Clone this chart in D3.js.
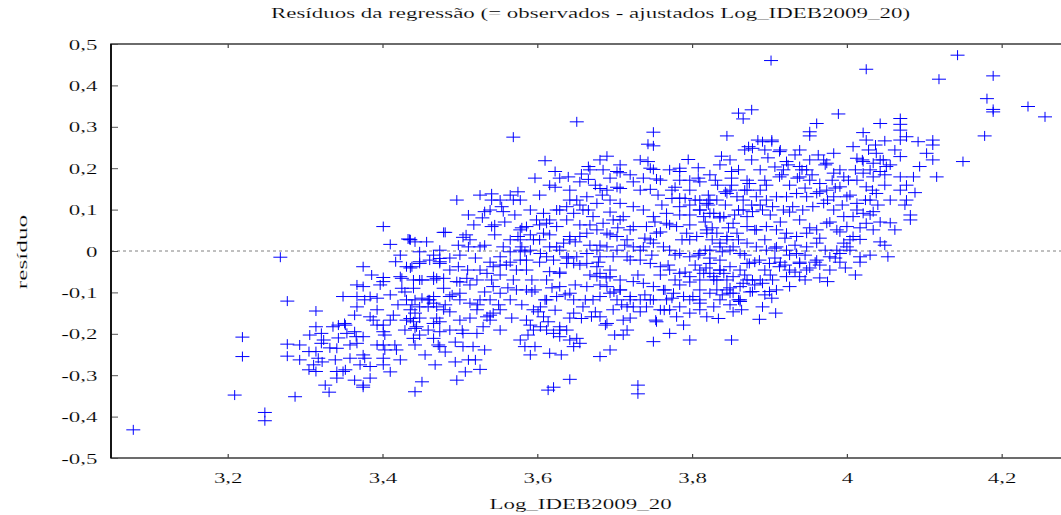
<!DOCTYPE html>
<html>
<head>
<meta charset="utf-8">
<script src="https://cdn.jsdelivr.net/npm/d3@7"></script>
<style>
body { margin: 0; background: #fff; }
svg text { font-family: "Liberation Serif", "Times New Roman", serif; fill: #000; stroke: #fff; stroke-width: 0.15px; paint-order: fill; }
</style>
</head>
<body>
<script>
(function(){

    //residual points: [Log_IDEB2009_20, resíduo]
    var points = [
        [3.078,-0.432],[3.209,-0.348],[3.219,-0.208],[3.219,-0.255],[3.248,-0.390],[3.248,-0.410],[3.268,-0.015],[3.277,-0.121],[3.277,-0.225],[3.277,-0.254],
        [3.287,-0.352],[3.314,-0.145],[3.314,-0.183],[3.321,-0.199],[3.324,-0.215],[3.321,-0.223],[3.305,-0.243],[3.314,-0.243],[3.317,-0.259],[3.311,-0.275],
        [3.305,-0.287],[3.314,-0.291],[3.331,-0.341],[3.341,-0.235],[3.341,-0.291],[3.341,-0.307],[3.349,-0.291],[3.336,-0.183],[3.343,-0.179],[3.351,-0.175],
        [3.354,-0.199],[3.364,-0.195],[3.366,-0.207],[3.367,-0.223],[3.375,-0.207],[3.358,-0.259],[3.375,-0.251],[3.377,-0.259],[3.384,-0.279],[3.375,-0.324],
        [3.375,-0.329],[3.367,-0.135],[3.367,-0.110],[3.367,-0.082],[3.375,-0.086],[3.349,-0.110],[3.375,-0.038],[3.384,-0.110],[3.393,-0.114],[3.393,-0.142],
        [3.384,-0.159],[3.388,-0.167],[3.393,-0.179],[3.401,-0.179],[3.401,-0.195],[3.393,-0.227],[3.401,-0.227],[3.403,-0.239],[3.401,-0.259],[3.401,-0.275],
        [3.418,-0.239],[3.410,-0.106],[3.414,-0.155],[3.401,-0.064],[3.401,-0.074],[3.401,0.059],[3.410,0.016],[3.417,-0.026],[3.425,-0.066],[3.425,-0.090],
        [3.438,-0.038],[3.436,0.027],[3.433,0.029],[3.442,0.022],[3.457,0.022],[3.448,-0.002],[3.448,-0.026],[3.440,-0.070],[3.451,-0.070],[3.440,-0.090],
        [3.431,-0.118],[3.442,-0.118],[3.451,-0.114],[3.436,-0.142],[3.442,-0.150],[3.436,-0.163],[3.440,-0.171],[3.442,-0.187],[3.448,-0.203],[3.440,-0.211],
        [3.451,-0.316],[3.442,-0.340],[3.466,-0.010],[3.466,-0.070],[3.470,-0.066],[3.466,-0.110],[3.466,-0.126],[3.466,-0.175],[3.466,-0.211],[3.474,-0.231],
        [3.474,-0.195],[3.479,0.045],[3.479,-0.090],[3.479,-0.142],[3.474,-0.018],[3.474,-0.026],[3.459,-0.118],[3.459,-0.135],[3.470,-0.135],
        [3.651,0.312],[3.569,0.275],[3.750,0.287],[3.743,0.258],[3.750,0.254],[3.845,0.278],[3.860,0.333],[3.866,0.319],[3.873,0.252],[3.690,0.229],
        [3.610,0.218],[3.743,0.216],[3.750,0.197],[3.838,0.229],[3.795,0.221],[3.784,0.200],[3.784,0.192],[3.808,0.201],[3.808,0.176],[3.797,0.171],
        [3.830,0.171],[3.851,0.192],[3.851,0.176],[3.666,0.204],[3.657,0.186],[3.666,0.173],[3.685,0.196],[3.703,0.192],[3.707,0.189],[3.623,0.192],
        [3.640,0.179],[3.597,0.176],[3.623,0.154],[3.724,0.167],[3.737,0.176],[3.754,0.174],[3.733,0.147],[3.746,0.149],[3.681,0.151],[3.690,0.147],
        [3.703,0.154],[3.707,0.151],[3.778,0.154],[3.756,0.135],[3.774,0.127],[3.791,0.127],[3.784,0.107],[3.804,0.123],[3.823,0.123],[3.821,0.111],
        [3.843,0.143],[3.851,0.159],[3.871,0.171],[3.866,0.123],[3.860,0.099],[3.871,0.083],[3.496,0.123],[3.511,0.087],[3.526,0.135],[3.541,0.138],
        [3.541,0.123],[3.569,0.123],[3.575,0.143],[3.532,0.095],[3.554,0.107],[3.556,0.095],[3.545,0.063],[3.541,0.059],[3.481,0.045],[3.504,0.033],
        [3.511,0.010],[3.526,0.010],[3.435,0.028],[3.474,-0.030],[3.448,-0.030],[3.431,-0.038],[3.423,-0.062],[3.466,-0.062],[3.479,-0.066],[3.487,-0.046],
        [3.498,-0.038],[3.496,-0.074],[3.509,-0.066],[3.522,-0.070],[3.535,-0.054],[3.543,-0.038],[3.552,-0.014],[3.556,0.010],[3.565,0.027],[3.575,0.035],
        [3.580,0.010],[3.584,-0.002],[3.586,-0.022],[3.578,-0.022],[3.573,-0.046],[3.586,-0.046],[3.560,-0.034],[3.569,-0.070],[3.593,-0.070],[3.543,-0.086],
        [3.552,-0.102],[3.539,-0.118],[3.526,-0.118],[3.513,-0.126],[3.522,-0.142],[3.535,-0.159],[3.543,-0.150],[3.552,-0.142],[3.565,-0.118],[3.573,-0.094],
        [3.586,-0.094],[3.597,-0.094],[3.500,-0.102],[3.487,-0.110],[3.448,-0.135],[3.431,-0.167],[3.444,-0.183],[3.487,-0.191],[3.500,-0.167],[3.504,-0.199],
        [3.522,-0.199],[3.530,-0.183],[3.539,-0.155],[3.517,-0.231],[3.504,-0.231],[3.511,-0.263],[3.526,-0.286],[3.496,-0.312],[3.472,-0.227],[3.578,-0.215],
        [3.584,-0.231],[3.597,-0.231],[3.591,-0.251],[3.588,-0.203],[3.595,-0.191],[3.604,-0.183],[3.612,-0.191],[3.621,-0.199],[3.629,-0.183],[3.638,-0.191],
        [3.629,-0.207],[3.642,-0.215],[3.651,-0.211],[3.655,-0.223],[3.647,-0.231],[3.616,-0.247],[3.631,-0.251],[3.642,-0.310],[3.621,-0.329],[3.614,-0.336],
        [3.681,-0.255],[3.694,-0.239],[3.730,-0.324],[3.730,-0.345],[3.750,-0.219],[3.716,-0.191],[3.711,-0.203],[3.711,-0.167],[3.690,-0.175],[3.698,-0.142],
        [3.681,-0.159],[3.670,-0.159],[3.657,-0.163],[3.647,-0.150],[3.659,-0.135],[3.672,-0.118],[3.681,-0.110],[3.694,-0.102],[3.707,-0.094],[3.720,-0.110],
        [3.733,-0.118],[3.741,-0.135],[3.724,-0.135],[3.759,-0.142],[3.771,-0.142],[3.780,-0.159],[3.789,-0.179],[3.771,-0.199],[3.754,-0.171],[3.797,-0.215],
        [3.834,-0.163],[3.851,-0.215],[3.853,-0.147],[3.864,-0.142],[3.860,-0.118],[3.832,-0.094],[3.823,-0.102],[3.810,-0.118],[3.801,-0.110],[3.789,-0.110],
        [3.776,-0.102],[3.763,-0.094],[3.750,-0.086],[3.737,-0.078],[3.724,-0.074],[3.707,-0.070],[3.694,-0.062],[3.681,-0.054],[3.677,-0.038],[3.664,-0.030],
        [3.647,-0.030],[3.638,-0.030],[3.629,-0.054],[3.616,-0.050],[3.612,-0.070],[3.629,-0.086],[3.642,-0.102],[3.625,-0.110],[3.612,-0.118],[3.604,-0.135],
        [3.595,-0.142],[3.608,-0.159],[3.586,-0.167],[3.647,-0.118],[3.681,-0.014],[3.698,-0.014],[3.716,-0.014],[3.733,-0.022],[3.746,-0.030],[3.759,-0.038],
        [3.771,-0.046],[3.784,-0.054],[3.797,-0.062],[3.810,-0.070],[3.823,-0.054],[3.836,-0.046],[3.849,-0.038],[3.862,-0.046],[3.871,-0.030],[3.862,-0.006],
        [3.849,0.002],[3.836,0.010],[3.823,0.002],[3.810,-0.006],[3.797,-0.014],[3.784,-0.006],[3.771,0.002],[3.763,0.010],[3.750,0.019],[3.737,0.010],
        [3.724,0.010],[3.716,0.027],[3.703,0.035],[3.690,0.043],[3.677,0.051],[3.664,0.043],[3.655,0.035],[3.642,0.035],[3.634,0.019],[3.625,0.010],
        [3.616,0.010],[3.608,0.043],[3.612,0.067],[3.625,0.059],[3.638,0.075],[3.647,0.091],[3.659,0.099],[3.672,0.083],[3.685,0.067],[3.698,0.075],
        [3.711,0.083],[3.724,0.059],[3.741,0.059],[3.754,0.043],[3.767,0.067],[3.780,0.059],[3.793,0.043],[3.806,0.035],[3.819,0.051],[3.832,0.043],
        [3.845,0.027],[3.858,0.043],[3.871,0.059],[3.853,0.067],[3.836,0.083],[3.823,0.091],[3.810,0.099],[3.797,0.087],[3.767,0.091],[3.750,0.083],
        [3.737,0.099],[3.724,0.107],[3.707,0.115],[3.694,0.123],[3.677,0.115],[3.664,0.131],[3.651,0.123],[3.638,0.107],[3.625,0.099],[3.608,0.091],
        [3.599,0.075],[3.586,0.059],[3.578,0.051],[3.595,0.027],[3.604,-0.006],[3.612,-0.014],[3.621,-0.022],[3.638,-0.014],[3.651,-0.014],[3.664,-0.006],
        [3.677,0.002],[3.690,0.010],[3.703,0.002],[3.677,-0.062],[3.664,-0.086],[3.690,-0.086],[3.703,-0.118],[3.716,-0.135],[3.750,-0.118],[3.767,-0.118],
        [3.784,-0.135],[3.797,-0.150],[3.810,-0.142],[3.819,-0.159],[3.828,-0.135],[3.836,-0.118],[3.849,-0.102],[3.862,-0.086],[3.871,-0.070],[3.845,-0.070],
        [3.832,-0.070],
        [3.902,0.460],[4.025,0.439],[4.143,0.473],[4.119,0.415],[4.189,0.423],[4.181,0.368],[4.189,0.342],[4.189,0.336],[4.234,0.349],[4.256,0.324],
        [4.178,0.278],[4.150,0.216],[3.877,0.341],[3.989,0.331],[3.961,0.308],[3.952,0.288],[3.952,0.278],[4.043,0.308],[4.069,0.320],[4.069,0.306],
        [4.069,0.292],[4.021,0.286],[4.025,0.268],[4.049,0.266],[4.077,0.276],[4.092,0.264],[4.111,0.268],[4.111,0.256],[4.103,0.236],[4.111,0.220],
        [4.094,0.204],[4.086,0.179],[4.116,0.179],[4.069,0.179],[4.077,0.159],[4.088,0.141],[4.077,0.123],[4.082,0.075],[4.056,0.068],[4.043,0.022],
        [4.053,-0.014],[4.017,-0.014],[4.017,0.028],[3.975,-0.074],[3.965,-0.034],[4.008,0.252],[4.028,0.244],[4.038,0.236],[4.013,0.224],[4.021,0.216],
        [4.034,0.212],[4.047,0.220],[4.069,0.228],[4.051,0.204],[4.043,0.192],[4.034,0.179],[4.021,0.188],[4.013,0.171],[4.025,0.155],[4.038,0.139],
        [4.030,0.123],[4.013,0.115],[4.000,0.131],[3.991,0.155],[3.996,0.179],[3.983,0.188],[3.974,0.212],[3.983,0.236],[3.970,0.220],[3.939,0.244],
        [3.913,0.240],[3.922,0.216],[3.939,0.204],[3.948,0.196],[3.918,0.196],[3.913,0.179],[3.896,0.159],[3.874,0.163],[3.878,0.248],[3.891,0.264],
        [3.903,0.264],[3.939,0.179],[3.952,0.171],[3.965,0.163],[3.974,0.147],[3.983,0.131],[3.961,0.139],[3.948,0.131],[3.935,0.139],[3.922,0.131],
        [3.909,0.131],[3.896,0.123],[3.883,0.131],[3.871,0.147],[3.858,0.131],[3.845,0.139],[3.832,0.123],[3.819,0.115],[3.815,0.083],[3.828,0.091],
        [3.841,0.083],[3.866,0.099],[3.878,0.095],[3.891,0.099],[3.904,0.107],[3.918,0.099],[3.930,0.107],[3.943,0.099],[3.956,0.107],[3.970,0.115],
        [3.983,0.099],[3.996,0.083],[4.008,0.083],[4.021,0.091],[4.034,0.095],[4.025,0.067],[4.000,0.059],[3.987,0.051],[3.974,0.067],[3.961,0.051],
        [3.948,0.043],[3.935,0.035],[3.922,0.043],[3.909,0.051],[3.896,0.059],[3.883,0.051],[3.845,0.035],[3.819,0.043],[3.836,0.019],[3.853,0.010],
        [3.871,0.019],[3.883,0.010],[3.896,0.002],[3.909,0.010],[3.922,0.002],[3.935,-0.006],[3.948,0.010],[3.961,0.019],[3.987,0.002],[4.000,0.010],
        [3.939,-0.030],[3.926,-0.046],[3.913,-0.038],[3.900,-0.030],[3.887,-0.022],[3.874,-0.030],[3.836,-0.022],[3.823,-0.030],[3.815,-0.054],[3.828,-0.062],
        [3.841,-0.054],[3.853,-0.062],[3.866,-0.078],[3.878,-0.070],[3.891,-0.078],[3.904,-0.070],[3.922,-0.062],[3.926,-0.086],[3.900,-0.098],[3.903,-0.114],
        [3.891,-0.135],[3.862,-0.122],[3.887,-0.165],[3.908,-0.150],[3.810,-0.126],[3.845,-0.094],[3.853,-0.102],[3.878,-0.098],[3.909,-0.094],[3.939,-0.062],
        [3.948,-0.046],[3.961,-0.022],[3.978,-0.014],[3.991,-0.006],[3.996,0.019],[4.008,0.035],[4.034,0.051],
        [3.868,0.244],[3.877,0.220],[3.888,0.196],[3.898,0.225],[3.907,0.203],[3.916,0.184],[3.926,0.159],[3.936,0.176],[3.946,0.152],[3.955,0.184],
        [3.965,0.143],[3.975,0.123],[3.985,0.152],[3.994,0.111],[4.004,0.135],[4.013,0.099],[4.024,0.123],[4.033,0.147],[4.040,0.111],[4.049,0.159],
        [4.056,0.123],[3.888,0.111],[3.901,0.087],[3.914,0.070],[3.926,0.094],[3.939,0.075],[3.952,0.056],[3.965,0.031],[3.978,0.070],[3.991,0.046],
        [4.004,0.027],[4.017,0.056],[4.030,0.087],[4.043,0.070],[3.881,0.051],[3.894,0.027],[3.907,0.007],[3.920,0.031],[3.933,0.014],[3.946,-0.010],
        [3.959,-0.027],[3.972,0.002],[3.985,-0.017],[3.998,-0.041],[4.011,-0.058],[3.868,-0.010],[3.881,-0.027],[3.894,-0.046],[3.907,-0.017],[3.920,-0.034],
        [3.933,-0.051],[3.946,-0.070],[3.868,-0.058],[3.881,-0.082],[3.894,-0.106],[3.843,0.111],[3.855,0.087],[3.847,0.056],[3.860,0.027],[3.839,-0.002],
        [3.826,0.027],[3.817,0.070],[3.833,0.159],[3.821,0.135],[3.810,0.099],[3.797,0.063],[3.787,0.027],[3.778,-0.010],[3.769,-0.034],[3.759,-0.058],
        [3.748,-0.010],[3.739,0.031],[3.752,0.070],[3.761,0.111],[3.774,0.147],[3.784,0.128],[3.797,0.027],[3.808,-0.010],[3.818,-0.041],[3.828,-0.070],
        [3.839,-0.106],[3.849,-0.130],[3.810,-0.094],[3.797,-0.118],[3.784,-0.082],[3.774,-0.114],[3.764,-0.143],[3.753,-0.167],[3.739,-0.106],[3.730,-0.058],
        [3.720,-0.022],[3.713,0.014],[3.704,0.056],[3.694,0.094],[3.684,0.135],[3.675,0.159],[3.666,0.099],[3.655,0.063],[3.649,0.022],[3.640,-0.017],
        [3.629,-0.051],[3.619,-0.089],[3.610,-0.118],[3.601,-0.147],[3.591,-0.179],[3.668,0.014],[3.679,-0.027],[3.689,-0.065],[3.699,-0.099],[3.709,-0.130],
        [3.720,-0.162],[3.688,-0.179],[3.700,-0.203],[3.675,-0.147],[3.662,-0.118],[3.649,-0.082],[3.636,-0.106],[3.623,-0.143],[3.614,-0.171],[3.629,-0.191],
        [3.642,-0.162],[3.578,0.027],[3.565,-0.002],[3.552,-0.034],[3.541,-0.070],[3.532,-0.099],[3.523,-0.130],[3.513,-0.162],[3.503,-0.191],[3.494,-0.220],
        [3.562,-0.089],[3.550,-0.130],[3.539,-0.167],[3.552,-0.191],[3.567,-0.162],[3.580,-0.130],[3.593,-0.099],[3.603,-0.027],[3.591,0.002],[3.580,0.056],
        [3.571,0.087],[3.558,0.070],[3.545,0.039],[3.532,0.014],[3.520,-0.017],[3.510,-0.046],[3.500,-0.075],[3.490,-0.106],[3.481,-0.130],[3.470,-0.162],
        [3.459,-0.191],[3.448,-0.162],[3.438,-0.130],[3.429,-0.099],[3.420,-0.130],[3.410,-0.167],[3.403,-0.203],[3.416,-0.227],[3.429,-0.191],[3.442,-0.227],
        [3.455,-0.251],[3.468,-0.275],[3.481,-0.244],[3.494,-0.268],[3.507,-0.292],[3.520,-0.263],[3.532,-0.239],[3.423,-0.263],[3.410,-0.292],[3.397,-0.082],
        [3.386,-0.058],[3.377,-0.118],[3.364,-0.155],[3.352,-0.179],[3.343,-0.210],[3.332,-0.234],[3.322,-0.268],[3.358,-0.227],[3.371,-0.275],[3.384,-0.307],
        [3.339,-0.263],[3.352,-0.287],[3.364,-0.312],[3.326,-0.324],[3.306,-0.203],[3.293,-0.227],[3.293,-0.263],[3.461,-0.022],[3.474,0.002],[3.487,-0.017],
        [3.498,0.014],[3.508,0.039],[3.518,0.063],[3.529,0.080],[3.539,0.099],[3.603,0.135],[3.616,0.159],[3.629,0.176],[3.642,0.147],[3.655,0.167],
        [3.668,0.196],[3.681,0.220],[3.694,0.176],[3.707,0.208],[3.720,0.184],[3.733,0.220],[3.746,0.200],[3.759,0.171],[3.771,0.196],[3.784,0.171],
        [3.797,0.147],[3.810,0.167],[3.823,0.184],[3.836,0.208],[3.849,0.220],[3.860,0.196],[3.868,0.147],[3.877,0.111],[3.888,0.147],[3.894,0.171],
        [3.849,0.147],[3.836,0.080],[3.826,0.056],[3.817,0.002],[3.804,-0.034],[3.791,-0.051],[3.778,-0.070],[3.765,-0.094],[3.746,-0.118],[3.733,-0.147],
        [3.720,-0.118],[3.707,-0.094],[3.694,-0.046],[3.681,-0.082],[3.668,-0.058],[3.655,-0.034],[3.642,0.027],[3.629,0.002],[3.616,0.039],[3.603,0.063],
        [3.591,0.099],[3.578,0.123],[3.565,0.135],[3.552,0.123],[4.056,0.208],[4.062,0.244],[4.069,0.268],[4.049,0.184],[4.043,0.220],[4.037,0.256],
        [4.030,0.196],[4.020,0.220],[4.011,0.196],[4.002,0.171],[3.991,0.196],[3.981,0.171],[3.972,0.208],[3.963,0.232],[3.952,0.220],[3.942,0.196],
        [3.933,0.232],[3.924,0.208],[3.914,0.244],[3.903,0.268],[3.894,0.244],[3.885,0.268],[4.069,0.147],[4.075,0.111],[4.082,0.087],[4.062,0.051],
        [4.049,0.014],[4.030,-0.010],[4.017,-0.027],[4.004,0.002],[3.991,-0.027],[3.978,-0.046],[3.965,-0.065],[3.952,-0.041],[3.939,-0.027],[3.926,-0.010],
        [3.914,-0.027],[3.901,-0.058],[3.888,-0.070],[3.875,-0.099],[3.862,-0.118],[3.849,-0.089],[3.836,-0.046],[3.823,-0.017],[3.810,-0.046],[3.797,-0.075],
        [3.733,0.002],[3.746,0.027],[3.759,0.046],[3.771,0.063],[3.784,0.087],[3.797,0.111],[3.810,0.123],[3.720,0.051],[3.707,0.075],[3.694,0.039],
        [3.681,0.014],[3.668,0.063],[3.655,0.111],[3.642,0.123],[3.629,0.099],[3.616,0.075],[3.603,0.027],[3.591,0.039],[3.578,0.002],[3.565,-0.027],
        [3.552,-0.058],[3.539,-0.027],[3.526,-0.046],[3.513,-0.082],[3.500,-0.118],[3.487,-0.147],[3.474,-0.171],[3.461,-0.118],[3.448,-0.070],[3.436,-0.041],
        [3.423,-0.010],[3.500,-0.010],[3.513,0.027]
    ];

    //axis ticks and texts
    var xTicks = [3.2, 3.4, 3.6, 3.8, 4, 4.2];
    var yTicks = [-0.5, -0.4, -0.3, -0.2, -0.1, 0, 0.1, 0.2, 0.3, 0.4, 0.5];
    var titleText = "Resíduos da regressão (= observados - ajustados Log_IDEB2009_20)";
    var xLabelText = "Log_IDEB2009_20";
    var yLabelText = "resíduo";

window.onload = drawChart;

function drawChart(){

    var width = 1061,
        height = 515;

    //gnuplot-like text: glyphs stretched along the baseline
    var fontSize = 15,
        stretch = 1.53;

    //portuguese number format, comma decimal and plain hyphen minus
    var locale = d3.formatLocale({decimal: ",", thousands: ".", grouping: [3], currency: ["", ""], minus: "-"});
    var fmt = locale.format(".1~f");

    var svg = d3.select("body")
        .append("svg")
        .attr("width", width)
        .attr("height", height);

    //plot area scales
    var x = d3.scaleLinear()
        .domain([3.0492, 4.2857])
        .range([111, 1068]);

    var y = d3.scaleLinear()
        .domain([-0.5, 0.5])
        .range([458, 44]);

    //zero reference line
    svg.append("line")
        .attr("x1", x.range()[0])
        .attr("x2", x.range()[1])
        .attr("y1", y(0))
        .attr("y2", y(0))
        .attr("stroke", "#808080")
        .attr("stroke-width", 1)
        .attr("stroke-dasharray", "3,3");

    //bottom axis with labels
    var bottom = svg.append("g")
        .attr("transform", "translate(0," + y.range()[0] + ")")
        .call(d3.axisBottom(x).tickValues(xTicks).tickSizeInner(-4).tickSizeOuter(0).tickPadding(14).tickFormat(fmt));
    bottom.select(".domain").remove();
    bottom.selectAll("line").attr("stroke", "#444").attr("stroke-width", 1.2);
    bottom.selectAll("text")
        .attr("font-size", fontSize)
        .attr("transform", "scale(" + stretch + ",1)");

    //left axis with labels
    var left = svg.append("g")
        .attr("transform", "translate(" + x.range()[0] + ",0)")
        .call(d3.axisLeft(y).tickValues(yTicks).tickSizeInner(-7).tickSizeOuter(0).tickFormat(fmt));
    left.select(".domain").remove();
    left.selectAll("line").attr("stroke", "#555").attr("stroke-width", 1);
    left.selectAll("text")
        .attr("font-size", fontSize)
        .attr("x", -13.5 / stretch)
        .attr("dy", "0.34em")
        .attr("transform", "scale(" + stretch + ",1)");

    //mirror ticks on top and right
    var top = svg.append("g")
        .attr("transform", "translate(0," + y.range()[1] + ")")
        .call(d3.axisTop(x).tickValues(xTicks).tickSizeInner(-4).tickSizeOuter(0).tickFormat(""));
    top.select(".domain").remove();
    top.selectAll("line").attr("stroke", "#444").attr("stroke-width", 1.2);

    var right = svg.append("g")
        .attr("transform", "translate(" + x.range()[1] + ",0)")
        .call(d3.axisRight(y).tickValues(yTicks).tickSizeInner(-7).tickSizeOuter(0).tickFormat(""));
    right.select(".domain").remove();
    right.selectAll("line").attr("stroke", "#888").attr("stroke-width", 1);

    //frame
    svg.append("rect")
        .attr("x", x.range()[0])
        .attr("y", y.range()[1])
        .attr("width", x.range()[1] - x.range()[0])
        .attr("height", y.range()[0] - y.range()[1])
        .attr("fill", "none")
        .attr("stroke", "#484848")
        .attr("stroke-width", 1.6);

    svg.append("line")
        .attr("x1", x.range()[0])
        .attr("x2", x.range()[0])
        .attr("y1", y.range()[1])
        .attr("y2", y.range()[0])
        .attr("stroke", "#000")
        .attr("stroke-width", 1.6);

    //residual crosses
    svg.append("g")
        .selectAll(".pt")
        .data(points)
        .enter()
        .append("path")
        .attr("class", "pt")
        .attr("transform", function(d){ return "translate(" + x(d[0]) + "," + y(d[1]) + ")"; })
        .attr("d", "M-7,0H7M0,-5V5")
        .attr("fill", "none")
        .attr("stroke", "#0000ff")
        .attr("stroke-width", 1);

    //title and axis titles
    svg.append("text")
        .attr("transform", "translate(590.5,18) scale(" + stretch + ",1)")
        .attr("text-anchor", "middle")
        .attr("font-size", fontSize)
        .text(titleText);

    svg.append("text")
        .attr("transform", "translate(580.5,509) scale(" + stretch + ",1)")
        .attr("text-anchor", "middle")
        .attr("font-size", fontSize)
        .text(xLabelText);

    svg.append("text")
        .attr("transform", "translate(27,252) rotate(-90) scale(" + (stretch * 1.1) + ",1)")
        .attr("text-anchor", "middle")
        .attr("font-size", fontSize)
        .text(yLabelText);
};

})();
</script>
</body>
</html>
